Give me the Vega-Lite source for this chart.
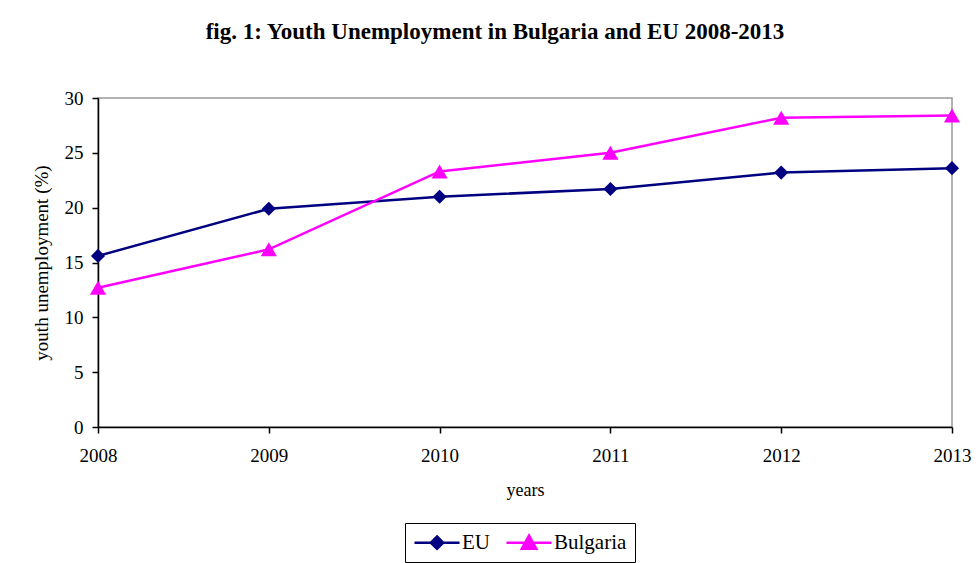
{
  "$schema": "https://vega.github.io/schema/vega-lite/v6.json",
  "width": 854,
  "height": 329,
  "autosize": {"type": "none"},
  "padding": {"left": 98, "top": 98, "right": 28, "bottom": 136},
  "background": "white",
  "title": {
    "text": "fig. 1: Youth Unemployment in Bulgaria and EU 2008-2013",
    "font": "Liberation Serif",
    "fontSize": 23,
    "fontWeight": "bold",
    "color": "black",
    "anchor": "middle",
    "dx": -30,
    "offset": 45
  },
  "data": {
    "values": [
      {"year": 2008, "series": "EU", "value": 15.6},
      {"year": 2009, "series": "EU", "value": 19.9},
      {"year": 2010, "series": "EU", "value": 21.0},
      {"year": 2011, "series": "EU", "value": 21.7},
      {"year": 2012, "series": "EU", "value": 23.2},
      {"year": 2013, "series": "EU", "value": 23.6},
      {"year": 2008, "series": "Bulgaria", "value": 12.7},
      {"year": 2009, "series": "Bulgaria", "value": 16.2},
      {"year": 2010, "series": "Bulgaria", "value": 23.3},
      {"year": 2011, "series": "Bulgaria", "value": 25.0},
      {"year": 2012, "series": "Bulgaria", "value": 28.2},
      {"year": 2013, "series": "Bulgaria", "value": 28.4}
    ]
  },
  "encoding": {
    "x": {
      "field": "year",
      "type": "quantitative",
      "scale": {"domain": [2008, 2013], "nice": false, "zero": false},
      "axis": {
        "values": [2008, 2009, 2010, 2011, 2012, 2013],
        "format": "d",
        "title": "years",
        "grid": false,
        "labelFlush": false,
        "labelBound": false,
        "domainColor": "black",
        "domainWidth": 1.5,
        "tickColor": "black",
        "tickWidth": 1.5,
        "tickSize": 6,
        "labelFont": "Liberation Serif",
        "labelFontSize": 19,
        "labelColor": "black",
        "labelPadding": 13,
        "titleFont": "Liberation Serif",
        "titleFontSize": 18,
        "titleFontWeight": "normal",
        "titleColor": "black",
        "titlePadding": 16
      }
    },
    "y": {
      "field": "value",
      "type": "quantitative",
      "scale": {"domain": [0, 30], "nice": false},
      "axis": {
        "values": [0, 5, 10, 15, 20, 25, 30],
        "title": "youth unemployment (%)",
        "grid": false,
        "domainColor": "black",
        "domainWidth": 1.5,
        "tickColor": "black",
        "tickWidth": 1.5,
        "tickSize": 6,
        "labelFont": "Liberation Serif",
        "labelFontSize": 19,
        "labelColor": "black",
        "labelPadding": 9,
        "titleFont": "Liberation Serif",
        "titleFontSize": 19,
        "titleFontWeight": "normal",
        "titleColor": "black",
        "titlePadding": 13
      }
    },
    "color": {
      "field": "series",
      "type": "nominal",
      "scale": {"domain": ["EU", "Bulgaria"], "range": ["#000080", "#ff00ff"]},
      "legend": {
        "title": null,
        "orient": "none",
        "legendX": 307,
        "legendY": 425,
        "direction": "horizontal",
        "strokeColor": "black",
        "padding": 8,
        "symbolSize": 400,
        "symbolStrokeWidth": 2.5,
        "labelFont": "Liberation Serif",
        "labelFontSize": 21,
        "labelColor": "black",
        "labelOffset": 26,
        "columnPadding": 11,
        "encode": {
          "symbols": {
            "update": {
              "shape": {"signal": "datum.value === 'EU' ? 'M-1,0L3.5,0M1.25,-0.62L1.87,0L1.25,0.62L0.63,0Z' : 'M-1,0L3.5,0M1.25,-0.72L1.97,0.6L0.53,0.6Z'"},
              "size": {"value": 400},
              "fill": {"signal": "datum.value === 'EU' ? '#000080' : '#ff00ff'"},
              "stroke": {"signal": "datum.value === 'EU' ? '#000080' : '#ff00ff'"},
              "strokeWidth": {"value": 2.5},
              "opacity": {"value": 1}
            }
          }
        }
      }
    }
  },
  "layer": [
    {"mark": {"type": "line", "strokeWidth": 2.5}},
    {
      "transform": [{"filter": "datum.series === 'EU'"}],
      "mark": {"type": "point", "filled": true, "opacity": 1, "shape": "diamond", "size": 200}
    },
    {
      "transform": [{"filter": "datum.series === 'Bulgaria'"}],
      "mark": {"type": "point", "filled": true, "opacity": 1, "shape": "triangle-up", "size": 260}
    }
  ],
  "config": {
    "view": {"stroke": "#999999", "strokeWidth": 1.5}
  }
}
